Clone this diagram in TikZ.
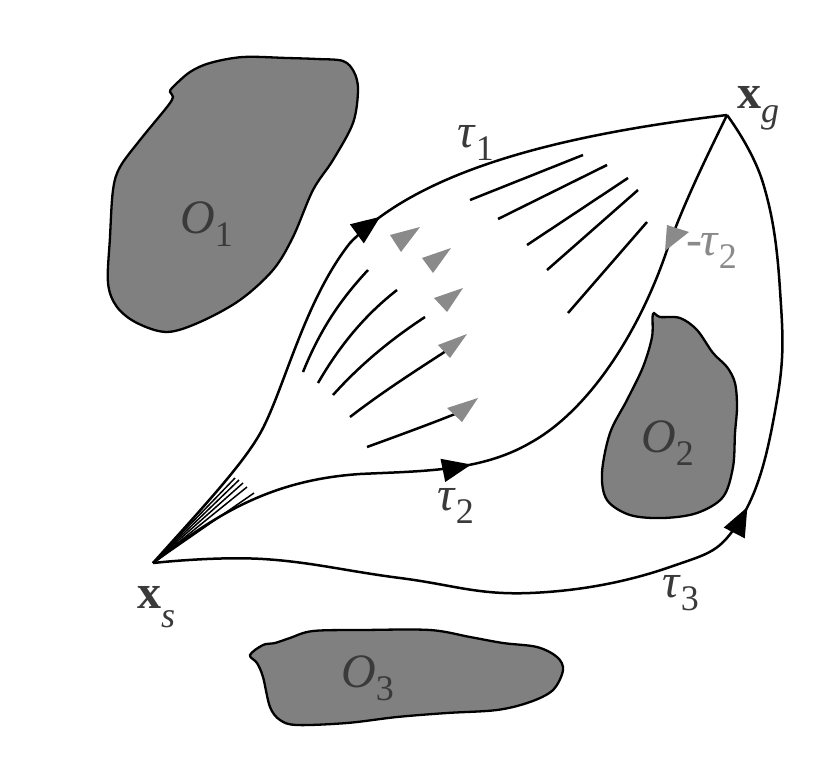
\documentclass[tikz,border=0pt]{standalone}
\usepackage{fontspec}
\setmainfont{Liberation Serif}
\usetikzlibrary{arrows.meta,decorations.markings}
\definecolor{obst}{HTML}{808080}
\definecolor{labc}{HTML}{3A3A3A}
\definecolor{arrg}{HTML}{8A8A8A}
\newcommand{\lb}[3][13pt]{#2\raisebox{-#1}{\fontsize{36}{36}\selectfont #3}}
\begin{document}
\begin{tikzpicture}[x=1pt,y=-1pt,
  obstacle/.style={fill=obst, draw=black, line width=2.3pt},
  curve/.style={line width=2.5pt},
  field/.style={line width=2.5pt},
  lab/.style={anchor=base west, inner sep=0pt, font=\fontsize{48}{48}\selectfont, text=labc},
  gtri/.style={fill=arrg, draw=none},
  blackarrow/.style={postaction={decorate}, decoration={markings, mark=at position #1 with {\arrow{Triangle[length=29pt,width=23pt]}}}}]
\useasboundingbox (0,0) rectangle (829,779);

% obstacles
\draw[obstacle] plot[smooth cycle, tension=0.55] coordinates {
 (170,92) (173,97) (167,107) (140,140) (120,167) (113,190) (110,237) (108,283)
 (117,307) (137,323) (167,332) (200,322) (240,300) (273,270) (293,237) (313,190)
 (333,160) (353,123) (358,90) (354,72) (343,61) (317,59) (287,58) (243,57) (210,63) (190,72) (173,87)};
\draw[obstacle] plot[smooth cycle, tension=0.55] coordinates {
 (653,314) (660,317) (680,318) (697,330) (713,353) (727,367) (735,383) (737,407)
 (735,433) (733,467) (723,497) (697,513) (663,518) (630,515) (607,500) (602,473)
 (610,433) (627,400) (643,367) (652,337)};
\draw[obstacle] plot[smooth cycle, tension=0.55] coordinates {
 (250,655) (263,645) (275,643) (290,638) (313,631) (363,630) (430,630) (470,637)
 (503,643) (537,647) (557,657) (563,670) (553,690) (530,702) (497,710) (447,713)
 (397,717) (347,723) (297,725) (280,720) (270,707) (263,677) (257,663)};

% labels of obstacles
\node[lab] (O1) at (180,233) {\lb{\textit{O}}{1}};
\node[lab] (O2) at (641,452) {\lb{\textit{O}}{2}};
\node[lab] (O3) at (341,687) {\lb{\textit{O}}{3}};

% start / goal
\coordinate (xs) at (153,563);
\coordinate (xg) at (727,115);
\node[lab] (xsl) at (137,608) {\lb[19pt]{\textbf{x}}{\textit{s}}};
\node[lab] (xgl) at (737,108) {\lb[14pt]{\textbf{x}}{\textit{g}}};

% tau 1
\draw[curve, blackarrow=0.535] (xs) .. controls (205,505) and (245,462) .. (262,430)
  .. controls (285,386) and (305,300) .. (350,243)
  .. controls (420,170) and (560,135) .. (xg);
% tau 2
\draw[curve, blackarrow=0.43] (xs) .. controls (215,515) and (270,480) .. (360,474)
  .. controls (420,471) and (480,472) .. (530,443)
  .. controls (590,410) and (640,330) .. (667,250)
  .. controls (685,200) and (710,150) .. (xg);
% tau 3
\draw[curve, blackarrow=0.605] plot[smooth, tension=0.7] coordinates {
 (xs) (263,559) (400,578) (530,593) (670,567) (740,520) (777,400) (780,290) (763,183) (xg)};

% fan near start
\foreach \p in {(235,478),(239,480),(243,483),(247,487),(254,493)}
  \draw[line width=1.5pt] (xs) -- \p;

% field lines, upper right
\draw[field] (470,200) -- (583,155);
\draw[field] (498,219) -- (607,165);
\draw[field] (527,245) -- (628,178);
\draw[field] (547,270) -- (638,190);
\draw[field] (568,313) -- (647,222);
% field lines, lower left
\draw[field] (303,372) .. controls (320,330) and (340,300) .. (368,270);
\draw[field] (318,383) .. controls (340,345) and (365,315) .. (397,290);
\draw[field] (333,395) .. controls (360,365) and (390,340) .. (425,317);
\draw[field] (350,417) .. controls (385,390) and (420,368) .. (446,351);
\draw[field] (367,447) .. controls (400,435) and (430,424) .. (455,414);

% gray arrowheads
\fill[gtri] (390,235) -- (420,227) -- (401,252) -- cycle;
\fill[gtri] (422,258) -- (451,248) -- (433,273) -- cycle;
\fill[gtri] (434,298) -- (463,288) -- (447,312) -- cycle;
\fill[gtri] (438,345) -- (467,334) -- (450,358) -- cycle;
\fill[gtri] (447,408) -- (478,398) -- (462,422) -- cycle;
\fill[gtri] (667,225) -- (689,232) -- (665,251) -- cycle;

% tau labels
\node[lab] (t1) at (457,147) {\lb{\textit{τ}}{1}};
\node[lab] (t2) at (437,510) {\lb{\textit{τ}}{2}};
\node[lab] (t3) at (662,597) {\lb{\textit{τ}}{3}};
\node[lab, text=arrg] (mt2) at (686,255) {-\kern-2pt\lb{\textit{τ}}{2}};
\end{tikzpicture}
\end{document}
